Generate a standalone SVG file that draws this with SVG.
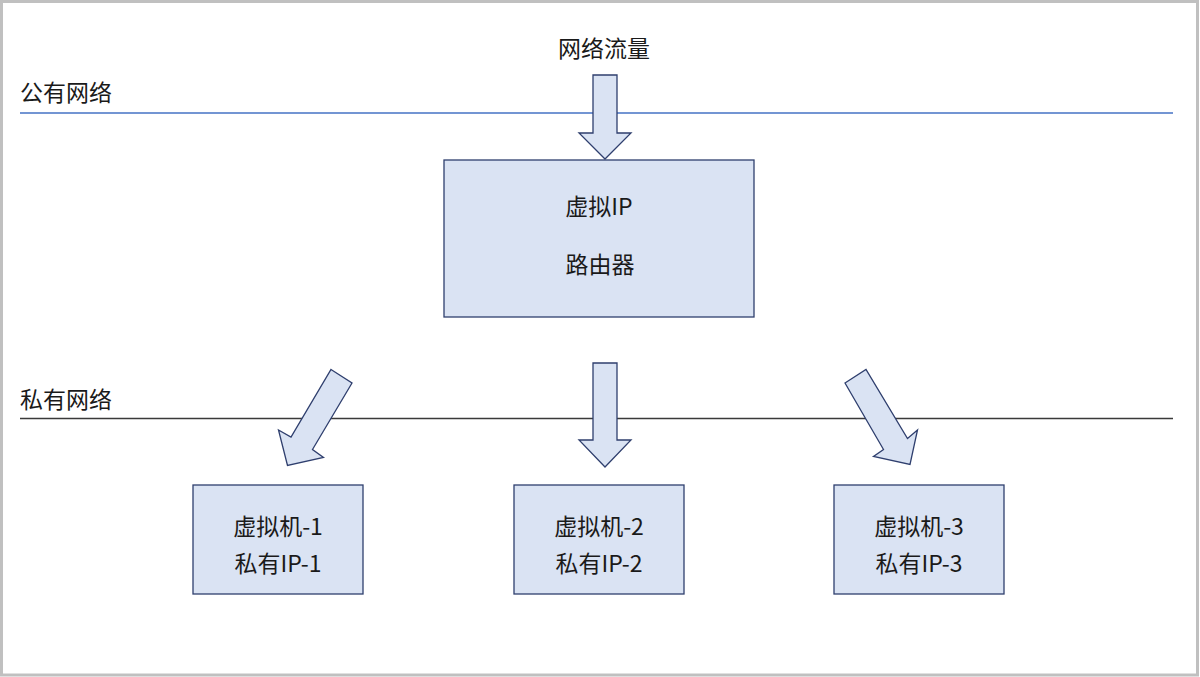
<svg xmlns="http://www.w3.org/2000/svg" width="1200" height="677" viewBox="0 0 1200 677">
<style>
.t{font-family:"Noto Sans CJK SC","Liberation Sans",sans-serif;font-size:23px;fill:#1a1a1a;dominant-baseline:central}
.c{text-anchor:middle}
.box{fill:#DAE3F3;stroke:#2F3F6E;stroke-width:1.3}
.arr{fill:#DAE3F3;stroke:#2F3F6E;stroke-width:1.3;stroke-linejoin:miter}
</style>
<rect x="0" y="0" width="1200" height="677" fill="#ffffff"/>
<rect x="1.5" y="1.5" width="1196" height="673.5" fill="none" stroke="#c0c0c0" stroke-width="3"/>
<g id="zones">
<line x1="20" y1="113" x2="1173" y2="113" stroke="#4472C4" stroke-width="1.3"/>
<line x1="20" y1="418.5" x2="1173" y2="418.5" stroke="#3a3a3a" stroke-width="1.5"/>
<text class="t" x="20" y="91">公有网络</text>
<text class="t" x="20" y="398">私有网络</text>
<text class="t c" x="604" y="47">网络流量</text>
</g>
<g id="connectors">
<polygon class="arr" points="593,75 617,75 617,133 631,133 605,159 579,133 593,133"/>
<polygon class="arr" points="593,363 617,363 617,440 631,440 605,467 579,440 593,440"/>
<polygon class="arr" points="331,369.5 352,383 312.5,449.5 323.5,457.5 287.5,465.5 278.5,430 291,437"/>
<polygon class="arr" points="845,383 866,369.5 907.5,438.5 917.5,430 910,464.5 873.5,456.5 883.5,449.5"/>
</g>
<g id="router">
<rect class="box" x="444" y="160" width="310" height="157"/>
<text class="t c" x="599" y="205">虚拟IP</text>
<text class="t c" x="600" y="263">路由器</text>
</g>
<g id="vm1">
<rect class="box" x="193" y="485" width="170" height="109"/>
<text class="t c" x="278" y="525">虚拟机-1</text>
<text class="t c" x="278" y="562">私有IP-1</text>
</g>
<g id="vm2">
<rect class="box" x="514" y="485" width="170" height="109"/>
<text class="t c" x="599" y="525">虚拟机-2</text>
<text class="t c" x="599" y="562">私有IP-2</text>
</g>
<g id="vm3">
<rect class="box" x="834" y="485" width="170" height="109"/>
<text class="t c" x="919" y="525">虚拟机-3</text>
<text class="t c" x="919" y="562">私有IP-3</text>
</g>
</svg>
